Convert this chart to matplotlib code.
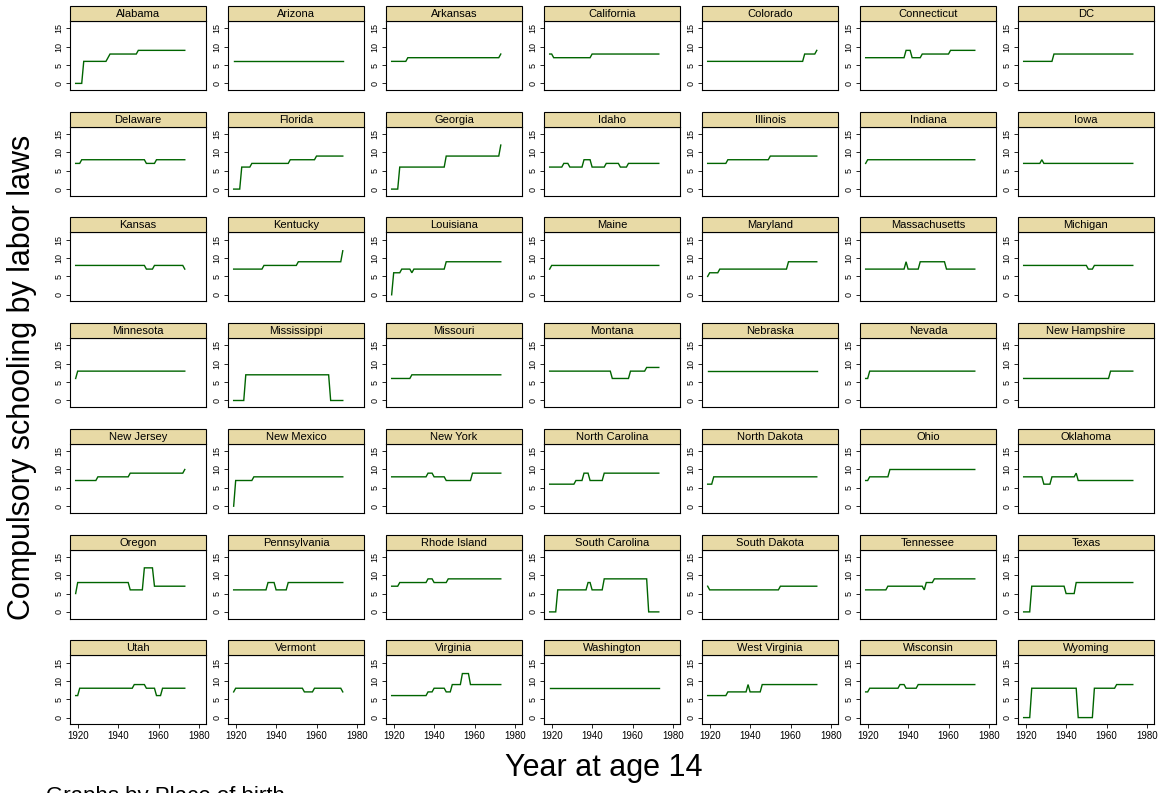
import numpy as np
import matplotlib
matplotlib.use("Agg")
import matplotlib.pyplot as plt
from matplotlib.patches import Rectangle

plt.rcParams['font.family'] = ['Liberation Sans', 'DejaVu Sans']

# ---------------- data ----------------
first_year = 1919
last_year = 1973

states = ["Alabama", "Arizona", "Arkansas", "California", "Colorado", "Connecticut", "DC",
          "Delaware", "Florida", "Georgia", "Idaho", "Illinois", "Indiana", "Iowa",
          "Kansas", "Kentucky", "Louisiana", "Maine", "Maryland", "Massachusetts", "Michigan",
          "Minnesota", "Mississippi", "Missouri", "Montana", "Nebraska", "Nevada", "New Hampshire",
          "New Jersey", "New Mexico", "New York", "North Carolina", "North Dakota", "Ohio", "Oklahoma",
          "Oregon", "Pennsylvania", "Rhode Island", "South Carolina", "South Dakota", "Tennessee", "Texas",
          "Utah", "Vermont", "Virginia", "Washington", "West Virginia", "Wisconsin", "Wyoming"]

# years at which the compulsory schooling value changes (step function)
change_years = [
    [1919, 1923, 1935, 1936, 1950],          # Alabama
    [1919],                                  # Arizona
    [1919, 1927, 1973],                      # Arkansas
    [1919, 1921, 1940],                      # California
    [1919, 1967, 1973],                      # Colorado
    [1919, 1939, 1942, 1947, 1961],          # Connecticut
    [1919, 1934],                            # DC
    [1919, 1922, 1954, 1959],                # Delaware
    [1919, 1923, 1928, 1947, 1960],          # Florida
    [1919, 1923, 1946, 1973],                # Georgia
    [1919, 1926, 1929, 1936, 1940, 1947, 1954, 1958],  # Idaho
    [1919, 1929, 1950],                      # Illinois
    [1919, 1920],                            # Indiana
    [1919, 1928, 1929],                      # Iowa
    [1919, 1954, 1958, 1973],                # Kansas
    [1919, 1934, 1951, 1973],                # Kentucky
    [1919, 1920, 1924, 1929, 1930, 1946],    # Louisiana
    [1919, 1920],                            # Maine
    [1919, 1920, 1925, 1959],                # Maryland
    [1919, 1939, 1940, 1946, 1959],          # Massachusetts
    [1919, 1951, 1954],                      # Michigan
    [1919, 1920],                            # Minnesota
    [1919, 1925, 1967],                      # Mississippi
    [1919, 1929],                            # Missouri
    [1919, 1950, 1959, 1967],                # Montana
    [1919],                                  # Nebraska
    [1919, 1921],                            # Nevada
    [1919, 1962],                            # New Hampshire
    [1919, 1930, 1946, 1973],                # New Jersey
    [1919, 1920, 1929],                      # New Mexico
    [1919, 1937, 1940, 1946, 1959],          # New York
    [1919, 1932, 1936, 1939, 1946],          # North Carolina
    [1919, 1922],                            # North Dakota
    [1919, 1921, 1931],                      # Ohio
    [1919, 1929, 1933, 1945, 1946],          # Oklahoma
    [1919, 1920, 1946, 1953, 1958],          # Oregon
    [1919, 1936, 1940, 1946],                # Pennsylvania
    [1919, 1923, 1937, 1940, 1947],          # Rhode Island
    [1919, 1923, 1938, 1940, 1946, 1968],    # South Carolina
    [1919, 1920, 1955],                      # South Dakota
    [1919, 1930, 1948, 1949, 1953],          # Tennessee
    [1919, 1923, 1940, 1945],                # Texas
    [1919, 1921, 1948, 1954, 1959, 1962],    # Utah
    [1919, 1920, 1954, 1959, 1973],          # Vermont
    [1919, 1937, 1940, 1946, 1949, 1954, 1958],  # Virginia
    [1919],                                  # Washington
    [1919, 1929, 1939, 1940, 1946],          # West Virginia
    [1919, 1921, 1936, 1939, 1945],          # Wisconsin
    [1919, 1923, 1946, 1954, 1965],          # Wyoming
]

change_values = [
    [0, 6, 7, 8, 9],          # Alabama
    [6],                      # Arizona
    [6, 7, 8],                # Arkansas
    [8, 7, 8],                # California
    [6, 8, 9],                # Colorado
    [7, 9, 7, 8, 9],          # Connecticut
    [6, 8],                   # DC
    [7, 8, 7, 8],             # Delaware
    [0, 6, 7, 8, 9],          # Florida
    [0, 6, 9, 12],            # Georgia
    [6, 7, 6, 8, 6, 7, 6, 7], # Idaho
    [7, 8, 9],                # Illinois
    [7, 8],                   # Indiana
    [7, 8, 7],                # Iowa
    [8, 7, 8, 7],             # Kansas
    [7, 8, 9, 12],            # Kentucky
    [0, 6, 7, 6, 7, 9],       # Louisiana
    [7, 8],                   # Maine
    [5, 6, 7, 9],             # Maryland
    [7, 9, 7, 9, 7],          # Massachusetts
    [8, 7, 8],                # Michigan
    [6, 8],                   # Minnesota
    [0, 7, 0],                # Mississippi
    [6, 7],                   # Missouri
    [8, 6, 8, 9],             # Montana
    [8],                      # Nebraska
    [6, 8],                   # Nevada
    [6, 8],                   # New Hampshire
    [7, 8, 9, 10],            # New Jersey
    [0, 7, 8],                # New Mexico
    [8, 9, 8, 7, 9],          # New York
    [6, 7, 9, 7, 9],          # North Carolina
    [6, 8],                   # North Dakota
    [7, 8, 10],               # Ohio
    [8, 6, 8, 9, 7],          # Oklahoma
    [5, 8, 6, 12, 7],         # Oregon
    [6, 8, 6, 8],             # Pennsylvania
    [7, 8, 9, 8, 9],          # Rhode Island
    [0, 6, 8, 6, 9, 0],       # South Carolina
    [7, 6, 7],                # South Dakota
    [6, 7, 6, 8, 9],          # Tennessee
    [0, 7, 5, 8],             # Texas
    [6, 8, 9, 8, 6, 8],       # Utah
    [7, 8, 7, 8, 7],          # Vermont
    [6, 7, 8, 7, 9, 12, 9],   # Virginia
    [8],                      # Washington
    [6, 7, 9, 7, 9],          # West Virginia
    [7, 8, 9, 8, 9],          # Wisconsin
    [0, 8, 0, 8, 9],          # Wyoming
]

x_ticks = [1920, 1940, 1960, 1980]
y_ticks = [0, 5, 10, 15]

# ---------------- layout ----------------
W, H = 1167, 793
fig = plt.figure(figsize=(W / 100, H / 100), dpi=100)
fig.patch.set_facecolor("white")

ncols = 7
col_left0, col_pitch, panel_w = 70, 158, 136
row_top0, row_pitch = 6, 105.7
strip_h, plot_h = 15, 69

line_color = "#006400"
strip_color = "#E8DAA6"
years = np.arange(first_year, last_year + 1)

for i, name in enumerate(states):
    r, c = divmod(i, ncols)
    left = col_left0 + col_pitch * c
    strip_top = row_top0 + row_pitch * r
    plot_top = strip_top + strip_h
    plot_bot = plot_top + plot_h

    ax = fig.add_axes([left / W, 1 - plot_bot / H, panel_w / W, plot_h / H])
    cy = np.array(change_years[i])
    cv = np.array(change_values[i])
    idx = np.searchsorted(cy, years, side="right") - 1
    vals = cv[idx]
    ax.plot(years, vals, color=line_color, lw=1.0, solid_joinstyle="miter")
    ax.set_xlim(1916.2, 1983.5)
    ax.set_ylim(-1.8, 17.0)
    ax.set_yticks(y_ticks)
    ax.set_yticklabels([str(t) for t in y_ticks], rotation=90, va="center", fontsize=6.5)
    ax.tick_params(axis="y", length=2.8, width=0.6, pad=1.8)
    if r == 6:
        ax.set_xticks(x_ticks)
        ax.set_xticklabels([str(t) for t in x_ticks], fontsize=7)
        ax.tick_params(axis="x", length=3, width=0.6, pad=2)
    else:
        ax.set_xticks([])
    for sp in ax.spines.values():
        sp.set_linewidth(0.8)
        sp.set_color("black")

    # strip header
    fig.patches.append(Rectangle((left / W, 1 - plot_top / H), panel_w / W, strip_h / H,
                                 transform=fig.transFigure, facecolor=strip_color,
                                 edgecolor="black", linewidth=0.8, zorder=3))
    fig.text((left + panel_w / 2) / W, 1 - (strip_top + strip_h / 2 + 0.5) / H, name,
             ha="center", va="center", fontsize=8, zorder=4)

fig.text(22 / W, 1 - 377 / H, "Compulsory schooling by labor laws", rotation=90,
         ha="center", va="center", fontsize=22)
fig.text(604 / W, 1 - 768 / H, "Year at age 14", ha="center", va="center", fontsize=22)
# caption sits at the lower edge, partly cut off as in the reference
fig.text(46 / W, 1 - 802 / H, "Graphs by Place of birth", ha="left", va="baseline", fontsize=16)

fig.savefig("out.png", dpi=100, facecolor="white")
